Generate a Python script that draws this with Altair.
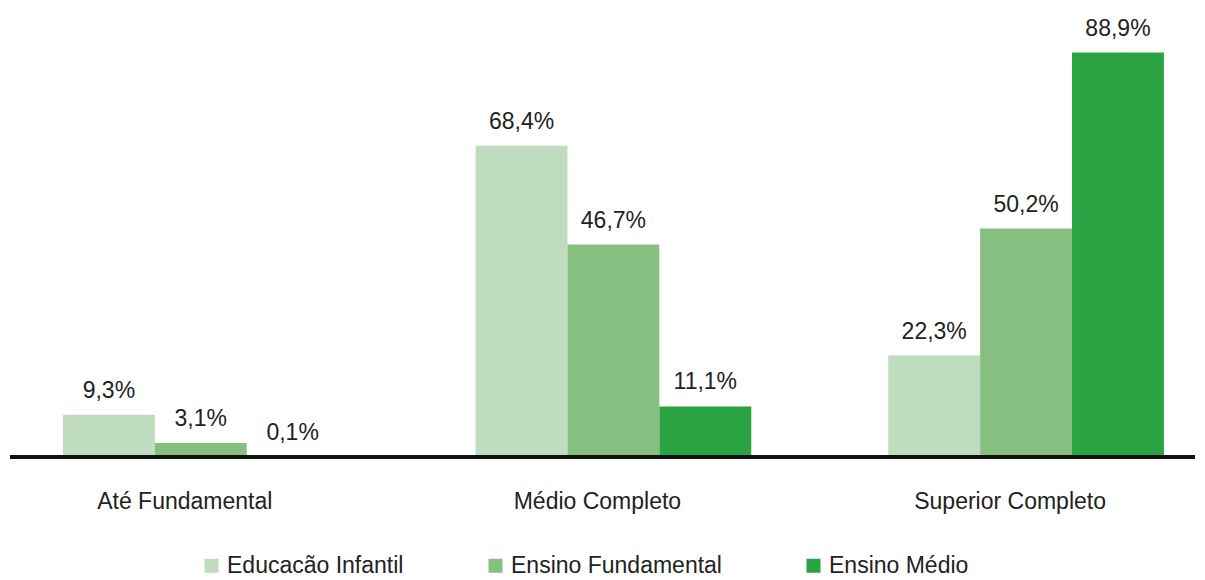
import altair as alt
import pandas as pd

categories = ["Até Fundamental", "Médio Completo", "Superior Completo"]
series = ["Educacão Infantil", "Ensino Fundamental", "Ensino Médio"]
educacao_infantil = [9.3, 68.4, 22.3]
ensino_fundamental = [3.1, 46.7, 50.2]
ensino_medio = [0.1, 11.1, 88.9]
colors = ["#c0dcbe", "#86bf80", "#2ca343"]

rows = []
for s, vals in zip(series, [educacao_infantil, ensino_fundamental, ensino_medio]):
    for c, v in zip(categories, vals):
        rows.append({"cat": c, "series": s, "v": v,
                     "lbl": f"{v:.1f}".replace(".", ",") + "%"})
df = pd.DataFrame(rows)

FONT = "Liberation Sans"
W, H = 1185, 455

x = alt.X("cat:N", sort=categories,
          scale=alt.Scale(paddingInner=0.332, paddingOuter=0.1018, align=0.63),
          axis=alt.Axis(title=None, domain=False, ticks=False, labelAngle=0,
                        labelFont=FONT, labelFontSize=23, labelColor="#222222",
                        labelBaseline="alphabetic", labelPadding=51, labelOffset=-16,
                        labelLimit=500))
xo = alt.XOffset("series:N", sort=series, scale=alt.Scale(paddingInner=0, paddingOuter=0))
y = alt.Y("v:Q", scale=alt.Scale(domain=[0, 100]), axis=None)

base = alt.Chart(df)

bars = base.mark_bar(strokeWidth=0).encode(
    x=x, xOffset=xo, y=y,
    color=alt.Color("series:N", sort=series,
                    scale=alt.Scale(domain=series, range=colors),
                    legend=alt.Legend(title=None, orient="none", direction="horizontal",
                                      legendX=190, legendY=552, padding=0,
                                      symbolType="square", symbolSize=196,
                                      symbolStrokeWidth=0, symbolOpacity=1,
                                      labelFont=FONT, labelFontSize=23,
                                      labelColor="#222222", labelOffset=4,
                                      columnPadding=80, labelLimit=400)),
)

labels = base.mark_text(font=FONT, fontSize=23, color="#222222",
                        baseline="alphabetic", dy=-17).encode(
    x=x, xOffset=xo, y=y, text="lbl:N",
)

baseline = alt.Chart(pd.DataFrame({"z": [0]})).mark_rule(
    color="#111111", strokeWidth=4).encode(
    y=alt.Y("z:Q", scale=alt.Scale(domain=[0, 100]), axis=None),
    x=alt.value(0), x2=alt.value(W),
)

chart = alt.layer(bars, labels, baseline).properties(
    width=W, height=H,
    background="white",
    autosize=alt.AutoSizeParams(type="none"),
    padding={"left": 10, "right": 10, "top": 2, "bottom": 123},
).configure_view(stroke=None, strokeWidth=0)

chart.save("out.html", embed_options={"renderer": "svg", "actions": False})
